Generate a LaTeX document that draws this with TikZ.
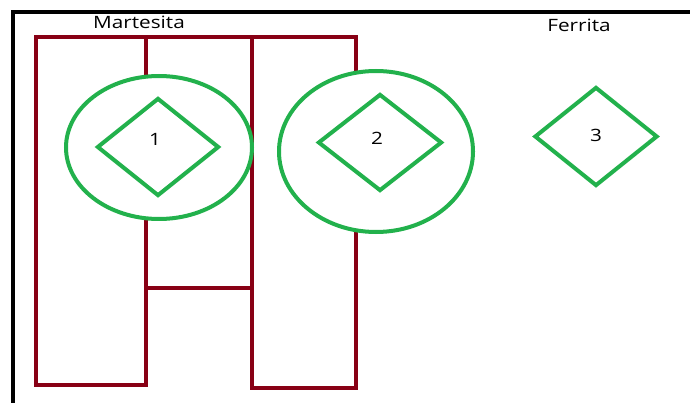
\documentclass[tikz,border=0pt]{standalone}
\usepackage{fontspec}
\setmainfont{Open Sans}
\usetikzlibrary{shapes.geometric}
\definecolor{wine}{HTML}{880015}
\definecolor{paintgreen}{HTML}{22B14C}
\tikzset{
  redbox/.style={draw=wine, line width=4pt, rectangle, inner sep=0pt},
  grain/.style={draw=paintgreen, fill=white, line width=4pt, ellipse, inner sep=0pt},
  rhomb/.style={draw=paintgreen, line width=4pt, diamond, inner sep=0pt},
  txt/.style={inner sep=0pt, font=\fontsize{17}{20}\selectfont},
  frame/.style={draw=black, line width=4pt}
}
\newcommand{\wtxt}[1]{\scalebox{1.22}[1]{#1}}
\begin{document}
\begin{tikzpicture}[x=1pt, y=-1pt]
\useasboundingbox (0,0) rectangle (690,403);
\coordinate (tl) at (12.5,12);
\coordinate (tr) at (692,12);
\coordinate (bl) at (12.5,405);
\draw[frame] (tr) -- (tl) -- (bl);
% red grains (martensite)
\node[redbox, minimum width=110pt, minimum height=348pt] (ra) at (91,211) {};
\node[redbox, minimum width=106pt, minimum height=251pt] (rb) at (199,162.5) {};
\node[redbox, minimum width=104pt, minimum height=351pt] (rc) at (304,212.5) {};
% green ellipses
\node[grain, minimum width=186pt, minimum height=143pt] (e1) at (159,147.5) {};
\node[grain, minimum width=194pt, minimum height=161pt] (e2) at (376,151.5) {};
% diamonds
\node[rhomb, minimum width=122pt, minimum height=98pt] (d1) at (158,147) {};
\node[rhomb, minimum width=124pt, minimum height=97pt] (d2) at (380,142.5) {};
\node[rhomb, minimum width=123pt, minimum height=99pt] (d3) at (596,136.5) {};
% labels
\node[txt] (n1) at (155,139) {\wtxt{1}};
\node[txt] (n2) at (377,138) {\wtxt{2}};
\node[txt] (n3) at (596,135) {\wtxt{3}};
\node[txt] (mart) at (139,22) {\wtxt{Martesita}};
\node[txt] (ferr) at (579,25) {\wtxt{Ferrita}};
\end{tikzpicture}
\end{document}
